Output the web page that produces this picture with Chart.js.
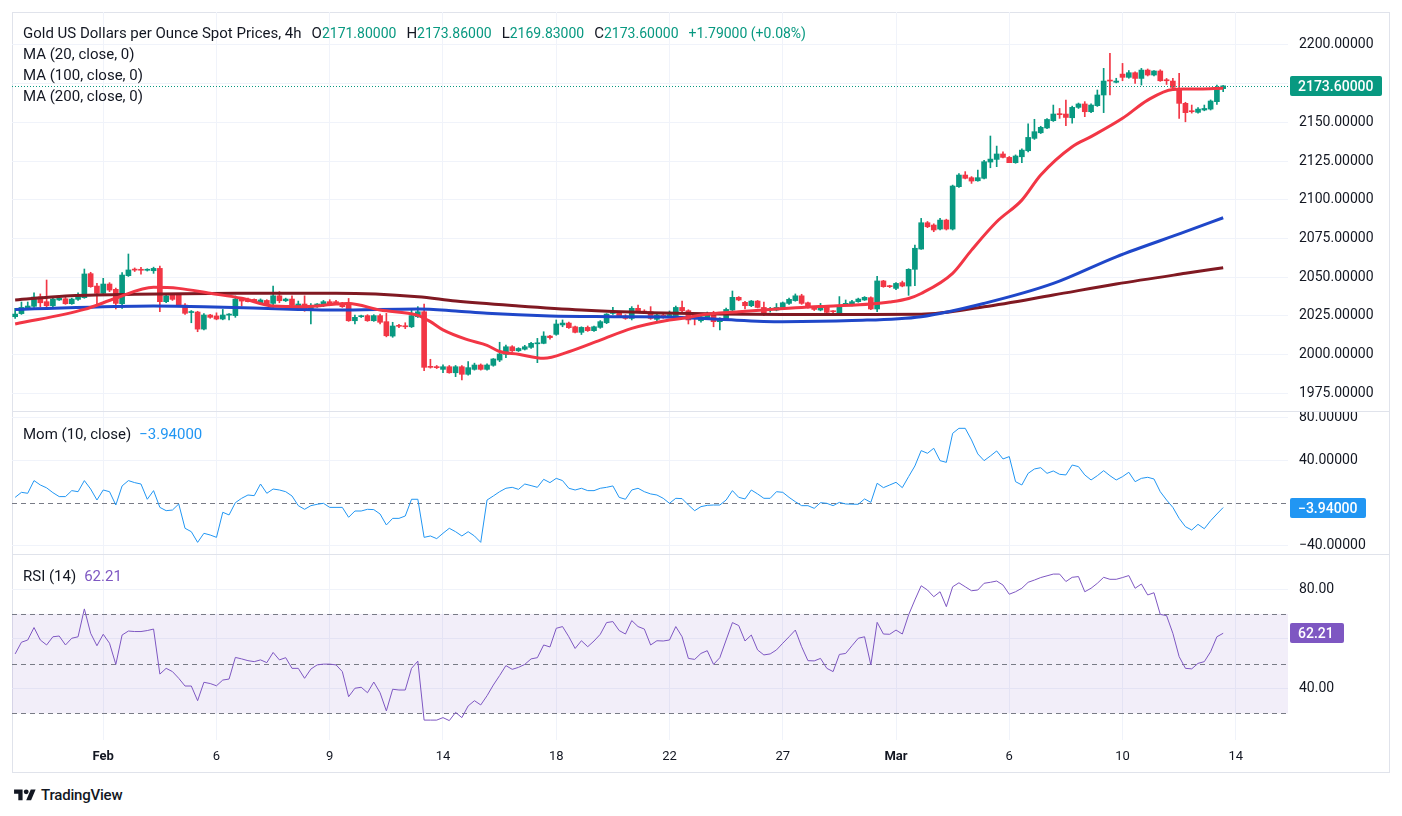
<!DOCTYPE html>
<html>
<head>
<meta charset="utf-8">
<script src="https://cdn.jsdelivr.net/npm/chart.js@4.4.1/dist/chart.umd.min.js"></script>
<style>
  body { margin: 0; background: #fff; font-family: Roboto, "Noto Sans", sans-serif; color: #131722; }
  #wrap { position: relative; width: 1402px; height: 816px; overflow: hidden; }
  .frame { position: absolute; left: 12px; top: 12px; width: 1376px; height: 759px; border: 1px solid #e0e3eb; }
  .sep { position: absolute; left: 12px; width: 1378px; height: 1px; background: #e0e3eb; }
  canvas { position: absolute; left: 12px; }
  .lg { position: absolute; left: 23px; font-size: 15px; line-height: 18px; white-space: nowrap; }
  .g { color: #089981; font-size: 14px; }
  .k { margin-left: 10px; }
</style>
</head>
<body>
<div id="wrap">
  <div class="frame"></div>
  <canvas id="price" width="1378" height="399" style="top:12px;width:1378px;height:399px"></canvas>
  <canvas id="mom" width="1378" height="142" style="top:412px;width:1378px;height:142px"></canvas>
  <canvas id="rsi" width="1378" height="218" style="top:555px;width:1378px;height:218px"></canvas>
  <div class="sep" style="top:411px"></div>
  <div class="sep" style="top:554px"></div>

  <div class="lg" style="top:24px">Gold US Dollars per Ounce Spot Prices, 4h<span class="k">O</span><span class="g">2171.80000</span><span class="k">H</span><span class="g">2173.86000</span><span class="k">L</span><span class="g">2169.83000</span><span class="k">C</span><span class="g">2173.60000</span><span class="g k">+1.79000 (+0.08%)</span></div>
  <div class="lg" style="top:45px">MA (20, close, 0)</div>
  <div class="lg" style="top:66px">MA (100, close, 0)</div>
  <div class="lg" style="top:87px">MA (200, close, 0)</div>
  <div class="lg" style="top:425px">Mom (10, close)<span class="k" style="color:#2196f3;margin-left:8px">&minus;3.94000</span></div>
  <div class="lg" style="top:567px">RSI (14)<span class="k" style="color:#7e57c2;margin-left:8px">62.21</span></div>

  <div style="position:absolute;left:14px;top:786px;display:flex;align-items:center;gap:5px">
    <svg width="22" height="17" viewBox="0 0 36 28"><path d="M14 22H7V11H0V4h14v18zM28 22h-8l7.5-18h8L28 22z" fill="#131722"/><circle cx="20" cy="8" r="4" fill="#131722"/></svg>
    <span style="font-size:15px;font-weight:500;letter-spacing:-0.2px">TradingView</span>
  </div>
</div>

<script>
// candles, 4h, index 0 = first bar on the left
const opens = [
  2024.5, 2026.5, 2030.3, 2031.2, 2037.4, 2034.2, 2031.6, 2035.3, 2036.1, 2032.9,
  2035.7, 2036.8, 2052.3, 2044.3, 2039.6, 2045.6, 2042.2, 2032.9, 2051.0, 2055.0,
  2055.0, 2054.5, 2054.2, 2055.7, 2034.2, 2039.0, 2039.0, 2032.0, 2027.2, 2027.5,
  2016.5, 2025.6, 2025.0, 2023.0, 2025.5, 2025.2, 2036.1, 2035.9, 2035.7, 2033.1,
  2035.0, 2033.1, 2038.0, 2034.8, 2035.9, 2031.4, 2032.7, 2028.4, 2031.0, 2031.6,
  2034.2, 2034.2, 2033.1, 2033.5, 2021.9, 2024.5, 2025.2, 2021.9, 2025.2, 2021.3,
  2012.0, 2018.7, 2018.5, 2018.0, 2024.5, 2027.7, 1992.2, 1992.0, 1990.5, 1992.2,
  1988.3, 1992.2, 1987.3, 1990.5, 1993.3, 1990.5, 1993.1, 1996.5, 2000.2, 2005.1,
  2002.5, 2003.5, 2004.7, 2007.0, 2007.3, 2012.0, 2013.1, 2019.2, 2020.4, 2018.0,
  2014.4, 2017.6, 2015.5, 2017.6, 2020.6, 2026.6, 2026.7, 2025.0, 2023.4, 2029.9,
  2028.0, 2027.7, 2022.8, 2025.3, 2025.2, 2025.2, 2030.5, 2028.4, 2025.6, 2021.9,
  2023.4, 2026.2, 2021.3, 2022.8, 2028.8, 2037.0, 2033.8, 2031.6, 2034.6, 2030.5,
  2029.0, 2028.8, 2030.5, 2033.1, 2034.9, 2038.0, 2033.5, 2030.5, 2028.8, 2031.0,
  2028.0, 2026.7, 2032.5, 2032.0, 2034.2, 2035.3, 2036.8, 2029.5, 2047.6, 2044.3,
  2042.8, 2046.5, 2044.3, 2055.1, 2068.2, 2085.2, 2083.7, 2081.1, 2086.9, 2081.1,
  2108.5, 2116.0, 2114.3, 2112.3, 2113.9, 2124.4, 2126.1, 2129.6, 2127.4, 2124.0,
  2127.8, 2131.7, 2139.7, 2143.3, 2146.4, 2151.1, 2155.6, 2155.4, 2153.0, 2159.7,
  2161.9, 2156.9, 2160.8, 2167.7, 2177.2, 2175.9, 2181.2, 2179.1, 2182.1, 2178.4,
  2183.8, 2180.6, 2183.2, 2177.2, 2176.7, 2172.0, 2162.3, 2157.0, 2156.5, 2158.0,
  2158.6, 2163.4, 2171.8
];
const highs = [
  2029.9, 2034.0, 2034.0, 2040.0, 2039.2, 2048.2, 2036.8, 2037.0, 2038.3, 2036.5,
  2040.0, 2055.3, 2053.2, 2046.0, 2049.3, 2046.5, 2043.0, 2053.0, 2065.0, 2056.0,
  2056.4, 2055.5, 2056.5, 2057.2, 2038.5, 2039.5, 2039.5, 2033.0, 2028.5, 2028.0,
  2026.5, 2026.0, 2027.0, 2029.2, 2026.5, 2037.9, 2036.8, 2036.5, 2036.0, 2036.0,
  2035.5, 2044.3, 2040.7, 2036.5, 2038.0, 2034.6, 2038.0, 2033.0, 2033.0, 2035.0,
  2035.5, 2035.0, 2033.8, 2036.3, 2025.6, 2025.5, 2025.8, 2025.8, 2026.2, 2026.7,
  2020.9, 2019.5, 2020.6, 2028.8, 2031.0, 2032.7, 1997.0, 1993.0, 1993.5, 1993.0,
  1993.0, 1993.0, 1995.5, 1994.5, 1994.0, 1994.0, 1997.5, 2008.0, 2006.2, 2005.8,
  2004.5, 2006.0, 2008.0, 2010.5, 2014.8, 2012.5, 2022.4, 2022.4, 2021.0, 2018.5,
  2018.0, 2018.5, 2018.5, 2022.0, 2026.5, 2030.5, 2028.0, 2025.8, 2031.0, 2032.0,
  2029.0, 2031.0, 2026.0, 2027.2, 2028.2, 2031.4, 2034.6, 2029.0, 2026.5, 2025.5,
  2027.5, 2028.0, 2023.8, 2030.0, 2041.1, 2037.5, 2034.5, 2035.0, 2035.0, 2034.0,
  2030.5, 2033.0, 2034.0, 2036.5, 2039.2, 2039.0, 2034.0, 2031.0, 2033.1, 2031.5,
  2028.5, 2037.5, 2035.3, 2035.0, 2036.5, 2037.5, 2037.3, 2050.5, 2048.0, 2044.8,
  2046.5, 2047.5, 2055.5, 2070.8, 2088.0, 2086.0, 2084.5, 2088.0, 2087.5, 2109.5,
  2117.0, 2118.2, 2115.0, 2119.2, 2125.5, 2141.2, 2134.7, 2131.0, 2128.0, 2129.0,
  2133.0, 2149.0, 2152.0, 2147.5, 2152.5, 2161.2, 2159.0, 2164.4, 2160.5, 2162.5,
  2163.4, 2162.0, 2170.9, 2184.9, 2194.6, 2178.5, 2188.1, 2183.5, 2182.6, 2184.9,
  2184.5, 2183.5, 2184.0, 2178.4, 2178.4, 2181.7, 2163.0, 2161.2, 2159.5, 2161.2,
  2164.5, 2174.1, 2173.86
];
const lows = [
  2023.4, 2026.0, 2029.7, 2030.5, 2031.0, 2029.5, 2031.0, 2035.0, 2032.5, 2032.5,
  2035.0, 2036.4, 2043.5, 2031.0, 2039.0, 2040.7, 2029.5, 2029.9, 2050.5, 2053.7,
  2051.9, 2054.0, 2052.5, 2027.7, 2033.5, 2035.0, 2031.5, 2026.0, 2020.6, 2014.8,
  2016.0, 2023.5, 2022.5, 2022.5, 2022.4, 2024.1, 2031.4, 2034.0, 2033.8, 2032.5,
  2032.3, 2030.5, 2033.5, 2034.3, 2031.5, 2031.0, 2028.0, 2019.8, 2030.5, 2031.0,
  2032.5, 2033.0, 2030.5, 2021.5, 2019.8, 2024.0, 2021.5, 2021.5, 2019.8, 2011.5,
  2011.2, 2017.5, 2016.8, 2017.5, 2024.0, 1989.6, 1991.3, 1991.0, 1988.3, 1988.0,
  1985.8, 1983.6, 1986.8, 1990.0, 1990.0, 1990.0, 1992.5, 1995.5, 1998.0, 2002.0,
  2002.0, 2003.0, 2004.0, 1994.8, 2007.0, 2010.0, 2012.5, 2018.0, 2017.0, 2014.0,
  2013.0, 2015.0, 2015.0, 2017.0, 2020.0, 2026.0, 2024.0, 2022.8, 2022.4, 2027.5,
  2026.8, 2022.8, 2020.6, 2023.5, 2024.5, 2024.5, 2027.8, 2019.8, 2019.2, 2021.0,
  2023.0, 2018.0, 2015.9, 2022.0, 2028.0, 2034.8, 2029.5, 2031.0, 2030.2, 2025.2,
  2027.5, 2028.3, 2030.0, 2032.5, 2034.5, 2032.5, 2030.0, 2028.5, 2028.3, 2026.8,
  2025.6, 2026.0, 2032.0, 2031.5, 2033.8, 2035.0, 2029.0, 2027.7, 2043.5, 2043.3,
  2042.0, 2043.8, 2038.3, 2044.5, 2068.0, 2082.0, 2079.4, 2080.5, 2080.5, 2080.5,
  2108.0, 2113.5, 2110.6, 2112.0, 2113.5, 2120.7, 2121.4, 2127.0, 2124.0, 2123.6,
  2124.0, 2131.0, 2139.0, 2142.8, 2145.9, 2150.6, 2152.6, 2147.9, 2149.5, 2159.0,
  2153.7, 2156.3, 2160.3, 2156.3, 2167.7, 2175.5, 2176.9, 2178.5, 2175.2, 2174.1,
  2180.0, 2180.0, 2176.5, 2174.5, 2172.0, 2152.6, 2150.4, 2156.0, 2156.0, 2157.5,
  2158.0, 2161.6, 2169.83
];
const closes = [
  2026.2, 2030.5, 2031.4, 2037.2, 2033.5, 2031.6, 2035.9, 2036.4, 2032.9, 2035.9,
  2037.4, 2052.1, 2043.9, 2039.6, 2045.6, 2041.7, 2033.1, 2051.4, 2054.7, 2054.6,
  2054.5, 2054.8, 2055.7, 2034.2, 2038.0, 2035.7, 2032.0, 2026.7, 2027.8, 2016.5,
  2025.6, 2024.1, 2023.0, 2025.6, 2026.2, 2035.9, 2034.6, 2034.2, 2034.2, 2035.3,
  2032.7, 2038.0, 2034.8, 2035.9, 2032.0, 2032.7, 2028.4, 2031.4, 2032.7, 2034.2,
  2032.7, 2033.1, 2031.0, 2021.9, 2024.1, 2025.0, 2021.9, 2025.2, 2020.9, 2012.2,
  2018.5, 2018.3, 2018.0, 2025.2, 2027.7, 1991.8, 1991.8, 1991.6, 1992.2, 1988.3,
  1992.2, 1987.3, 1991.6, 1993.3, 1990.5, 1993.3, 1997.2, 2000.4, 2005.1, 2002.5,
  2004.0, 2005.1, 2007.3, 2007.5, 2012.0, 2011.0, 2019.8, 2020.4, 2017.4, 2014.4,
  2017.6, 2015.5, 2018.0, 2021.3, 2026.2, 2027.0, 2024.5, 2023.4, 2029.9, 2027.7,
  2027.5, 2023.4, 2025.6, 2024.9, 2025.6, 2030.5, 2028.4, 2022.4, 2024.9, 2024.5,
  2025.6, 2021.3, 2023.4, 2029.2, 2037.0, 2035.3, 2031.6, 2034.6, 2030.5, 2026.7,
  2029.3, 2030.5, 2033.5, 2035.7, 2038.0, 2033.1, 2030.5, 2029.2, 2031.0, 2027.3,
  2027.7, 2031.4, 2032.9, 2034.2, 2035.9, 2037.0, 2029.5, 2047.6, 2043.9, 2043.9,
  2046.0, 2044.3, 2055.1, 2068.7, 2085.2, 2082.6, 2080.5, 2086.9, 2081.1, 2108.9,
  2116.0, 2113.9, 2112.1, 2114.3, 2124.6, 2126.3, 2129.6, 2127.4, 2124.0, 2128.3,
  2132.1, 2140.3, 2144.0, 2146.8, 2151.9, 2155.4, 2155.0, 2153.2, 2159.7, 2161.9,
  2156.9, 2161.2, 2167.7, 2176.7, 2176.7, 2176.7, 2179.1, 2182.1, 2178.4, 2183.8,
  2180.6, 2183.2, 2176.9, 2176.9, 2172.6, 2162.3, 2156.3, 2156.9, 2158.6, 2159.0,
  2163.8, 2172.0, 2173.6
];

// moving averages (bar index -> value)
const ma20At = [0, 11, 16, 22, 26, 31, 36, 41, 46, 51, 53, 58, 64, 66, 68, 72, 75, 77, 80, 84, 88, 93, 98, 104, 107, 109, 115, 120, 125, 130, 136, 139, 142, 144, 149, 152, 156, 160, 163, 168, 171, 176, 180, 184, 186, 192];
const ma20 = [2019.8, 2029.2, 2036.4, 2043.5, 2042.8, 2039.6, 2036.4, 2031.4, 2031.0, 2032.7, 2033.1, 2028.8, 2025.4, 2021.3, 2016.0, 2009.5, 2006.0, 2002.0, 2000.2, 1997.6, 2001.9, 2009.4, 2017.0, 2022.4, 2024.0, 2025.6, 2027.7, 2029.2, 2030.5, 2031.4, 2032.7, 2034.0, 2036.3, 2039.5, 2052.5, 2067.5, 2085.8, 2099.8, 2116.0, 2134.3, 2140.8, 2152.6, 2164.4, 2171.3, 2171.5, 2172.0];
const ma100At = [0, 22, 30, 45, 51, 64, 70, 75, 85, 96, 106, 112, 122, 133, 144, 154, 165, 175, 186, 192];
const ma100 = [2029.2, 2031.4, 2031.0, 2029.2, 2028.8, 2029.5, 2028.2, 2026.7, 2025.0, 2024.5, 2024.0, 2022.8, 2021.3, 2022.0, 2024.5, 2033.1, 2046.0, 2063.2, 2079.4, 2088.4];
const ma200At = [0, 8, 19, 35, 51, 64, 70, 80, 90, 101, 112, 122, 133, 144, 154, 165, 175, 186, 192];
const ma200 = [2035.3, 2037.9, 2039.0, 2039.6, 2039.6, 2037.4, 2034.6, 2031.4, 2028.8, 2027.1, 2026.2, 2026.0, 2026.0, 2026.1, 2030.9, 2038.5, 2045.6, 2052.5, 2056.1];

// Mom (10, close)
const mom = [
  5.6, 10.3, 9.4, 21.3, 17.2, 14.5, 10.0, 6.3, 6.3, 11.9,
  10.9, 21.3, 13.4, 3.1, 12.5, 10.9, -1.6, 16.3, 21.3, 19.4,
  18.1, 3.8, 11.9, -3.8, -6.9, -6.3, -0.6, -23.4, -26.6, -36.6,
  -28.1, -29.7, -31.9, -8.4, -10.9, 0.6, 4.7, 7.8, 7.2, 18.1,
  9.4, 13.4, 12.5, 10.9, 6.9, -2.2, -5.6, -2.2, -0.9, 0.0,
  -3.8, -3.8, -3.8, -13.1, -7.2, -7.2, -5.6, -5.9, -10.0, -20.3,
  -14.1, -14.1, -11.9, 3.8, 3.8, -31.9, -30.6, -33.1, -28.1, -23.4,
  -26.6, -30.6, -26.6, -30.6, -36.6, 3.1, 6.9, 10.9, 14.1, 15.0,
  13.1, 18.1, 16.6, 15.0, 22.5, 19.4, 23.4, 21.3, 14.1, 12.5,
  14.1, 11.9, 11.9, 14.1, 15.0, 16.3, 5.6, 3.8, 12.5, 14.1,
  10.9, 8.8, 7.8, 4.7, 0.0, 4.7, 4.4, -1.6, -6.9, -3.1,
  -1.9, -1.6, -1.6, 3.1, 11.9, 5.6, 4.1, 12.5, 8.8, 4.7,
  4.7, 10.9, 10.3, 5.6, 1.5, -2.2, -2.2, -4.7, 0.6, 0.0,
  -2.2, 0.9, -0.6, -0.8, -0.9, 4.1, 0.9, 18.8, 14.7, 17.2,
  19.7, 14.7, 25.0, 35.0, 49.4, 46.9, 51.6, 40.0, 38.4, 65.6,
  70.3, 70.3, 59.4, 46.3, 40.0, 44.4, 49.1, 41.6, 43.8, 20.3,
  17.2, 28.1, 32.2, 33.4, 28.1, 30.3, 27.2, 26.6, 35.9, 34.4,
  26.6, 21.9, 25.9, 30.6, 25.9, 21.9, 25.0, 29.1, 20.3, 23.4,
  24.4, 22.8, 10.9, 3.1, -3.8, -14.1, -21.9, -25.0, -19.7, -23.8,
  -16.3, -10.0, -3.94
];

// RSI (14)
const rsi = [
  53.9, 58.6, 59.5, 64.5, 59.5, 57.5, 60.8, 61.1, 57.5, 60.2,
  60.8, 72.0, 62.2, 57.2, 61.8, 58.2, 49.7, 61.5, 63.1, 62.9,
  62.9, 63.3, 63.9, 45.8, 48.1, 46.8, 44.1, 41.0, 41.0, 35.1,
  42.5, 42.0, 41.1, 43.4, 43.8, 52.5, 51.9, 51.2, 50.8, 51.5,
  50.4, 54.5, 51.5, 52.4, 48.1, 48.1, 44.1, 47.8, 49.5, 49.8,
  49.8, 49.5, 46.8, 36.7, 40.1, 40.5, 38.3, 42.6, 38.3, 31.0,
  39.7, 39.4, 39.4, 48.1, 51.0, 27.3, 27.3, 27.3, 28.3, 27.1,
  30.4, 28.3, 33.0, 35.1, 33.4, 37.1, 41.4, 45.2, 49.2, 47.7,
  48.5, 49.7, 51.9, 52.4, 57.5, 56.7, 64.2, 64.9, 60.8, 56.1,
  59.2, 56.8, 59.1, 61.8, 66.5, 66.9, 63.3, 61.9, 67.3, 64.9,
  63.9, 57.5, 59.2, 59.1, 59.5, 64.9, 60.8, 52.1, 51.7, 54.1,
  55.2, 49.7, 52.4, 59.5, 66.5, 65.3, 59.1, 61.5, 55.5, 53.5,
  53.9, 55.5, 58.2, 60.8, 63.5, 56.8, 51.2, 51.1, 52.1, 48.1,
  46.8, 53.7, 54.1, 57.2, 60.2, 60.8, 49.5, 66.6, 61.9, 61.8,
  63.5, 61.9, 69.6, 75.6, 81.3, 79.6, 76.9, 78.9, 72.9, 80.9,
  82.5, 80.9, 79.3, 79.6, 82.3, 82.7, 83.2, 81.6, 77.9, 78.9,
  80.3, 82.7, 83.6, 84.6, 85.3, 86.0, 86.0, 83.0, 84.7, 85.0,
  78.9, 80.3, 82.3, 84.7, 83.9, 83.9, 84.6, 85.4, 80.3, 82.0,
  77.6, 78.5, 69.8, 69.3, 62.2, 52.8, 48.1, 47.9, 50.1, 50.8,
  54.8, 60.8, 62.21
];

// time axis
const tickPos = [14, 32, 50, 68, 86, 104, 122, 140, 158, 176, 194];
const tickText = ['Feb', '6', '9', '14', '18', '22', '27', 'Mar', '6', '10', '14'];
const tickBold = ['Feb', 'Mar'];

const priceTicks = [1975, 2000, 2025, 2050, 2075, 2100, 2125, 2150, 2175, 2200];
const momTicks = [-40, 40, 80];
const rsiTicks = [40, 60, 80];

const UP = '#089981', DOWN = '#f23645', GRID = '#f0f3fa', TXT = '#131722';
const FONT = 'Roboto, "Noto Sans", sans-serif';
Chart.defaults.font.family = FONT;
Chart.defaults.animation = false;

const minus = s => s.replace('-', '\u2212');

function xAxis(showLabels) {
  return {
    type: 'linear', min: -0.5, max: 202.3, offset: false,
    afterBuildTicks: s => { s.ticks = tickPos.map(v => ({ value: v })); },
    afterFit: s => { s.height = showLabels ? 33 : 0; s.paddingLeft = 0; s.paddingRight = 0; },
    grid: { color: GRID, drawTicks: false, offset: false },
    border: { display: false },
    ticks: {
      display: showLabels, padding: 9, maxRotation: 0, autoSkip: false, color: TXT,
      font: c => ({ family: FONT, size: 13, weight: tickBold.includes(tickText[c.index]) ? 'bold' : 'normal' }),
      callback: (v, i) => tickText[i]
    }
  };
}

function yAxis(min, max, ticks, fmt) {
  return {
    position: 'right', min, max,
    afterBuildTicks: s => { s.ticks = ticks.map(v => ({ value: v })); },
    // fixed axis width, and no extra vertical room for the edge labels
    afterFit: s => { s.width = 102; s.paddingTop = 0; s.paddingBottom = 0; },
    grid: { color: GRID, drawTicks: false },
    border: { display: false },
    ticks: { padding: 11, color: TXT, font: { family: FONT, size: 14 }, callback: fmt }
  };
}

function levels(values, band) {
  return {
    id: 'levels',
    beforeDatasetsDraw(chart) {
      const { ctx, chartArea: a, scales: { y } } = chart;
      ctx.save();
      if (band) {
        const top = y.getPixelForValue(band[1]), bot = y.getPixelForValue(band[0]);
        ctx.fillStyle = 'rgba(126,87,194,0.1)';
        ctx.fillRect(a.left, top, a.right - a.left, bot - top);
      }
      ctx.strokeStyle = '#787b86';
      ctx.lineWidth = 1;
      ctx.setLineDash([5, 4]);
      values.forEach(v => {
        const py = Math.round(y.getPixelForValue(v)) + 0.5;
        ctx.beginPath(); ctx.moveTo(a.left, py); ctx.lineTo(a.right, py); ctx.stroke();
      });
      ctx.restore();
    }
  };
}

function lastValue(value, color, text, w, dotted) {
  return {
    id: 'lastValue',
    afterDraw(chart) {
      const { ctx, chartArea: a, scales: { y } } = chart;
      const py = Math.round(y.getPixelForValue(value));
      ctx.save();
      if (dotted) {
        ctx.strokeStyle = color; ctx.lineWidth = 1; ctx.setLineDash([1, 2]);
        ctx.beginPath(); ctx.moveTo(a.left, py + 0.5); ctx.lineTo(a.right, py + 0.5); ctx.stroke();
        ctx.setLineDash([]);
      }
      ctx.fillStyle = color;
      ctx.beginPath(); ctx.roundRect(a.right + 2, py - 10, w, 20, 2); ctx.fill();
      ctx.fillStyle = '#fff';
      ctx.font = '500 14px ' + FONT;
      ctx.textBaseline = 'middle';
      ctx.fillText(text, a.right + 10, py + 1);
      ctx.restore();
    }
  };
}

const idx = closes.map((c, i) => i);
const barColors = idx.map(i => closes[i] >= opens[i] ? UP : DOWN);
const pts = (at, vals) => at.map((x, k) => ({ x, y: vals[k] }));
const last = closes.length - 1;

const maLine = (label, at, vals, color, order) => ({
  type: 'line', label, data: pts(at, vals), borderColor: color, borderWidth: 3,
  pointRadius: 0, cubicInterpolationMode: 'monotone', order
});

const common = {
  responsive: false, devicePixelRatio: 1,
  layout: { padding: 0, autoPadding: false },
  plugins: { legend: { display: false }, tooltip: { enabled: false } }
};

new Chart(document.getElementById('price'), {
  type: 'bar',
  data: {
    datasets: [
      maLine('MA 20', ma20At, ma20, '#f23645', 0),
      maLine('MA 100', ma100At, ma100, '#1f47c9', 1),
      maLine('MA 200', ma200At, ma200, '#801922', 2),
      {
        label: 'body', data: idx.map(i => ({ x: i, y: [opens[i], closes[i]] })),
        backgroundColor: barColors, barThickness: 5, minBarLength: 1, grouped: false, order: 3
      },
      {
        label: 'wick', data: idx.map(i => ({ x: i, y: [lows[i], highs[i]] })),
        backgroundColor: barColors, barThickness: 1, grouped: false, order: 4
      }
    ]
  },
  options: {
    ...common,
    scales: {
      x: xAxis(false),
      y: yAxis(1963.6, 2221.3, priceTicks, v => v.toFixed(5))
    }
  },
  plugins: [lastValue(closes[last], UP, closes[last].toFixed(5), 92, true)]
});

new Chart(document.getElementById('mom'), {
  type: 'line',
  data: {
    datasets: [{
      label: 'Mom', data: idx.map(i => ({ x: i, y: mom[i] })),
      borderColor: '#2196f3', borderWidth: 1, pointRadius: 0, tension: 0
    }]
  },
  options: {
    ...common,
    scales: {
      x: xAxis(false),
      y: yAxis(-47.5, 85.6, momTicks, v => minus(v.toFixed(5)))
    }
  },
  plugins: [levels([0]), lastValue(mom[last], '#2196f3', minus(mom[last].toFixed(5)), 76, false)]
});

new Chart(document.getElementById('rsi'), {
  type: 'line',
  data: {
    datasets: [{
      label: 'RSI', data: idx.map(i => ({ x: i, y: rsi[i] })),
      borderColor: '#7e57c2', borderWidth: 1, pointRadius: 0, tension: 0
    }]
  },
  options: {
    ...common,
    scales: {
      x: xAxis(true),
      y: yAxis(19.3, 93.67, rsiTicks, v => v === 60 ? '' : v.toFixed(2))
    }
  },
  plugins: [levels([70, 50, 30], [30, 70]), lastValue(rsi[last], '#7e57c2', rsi[last].toFixed(2), 54, false)]
});
</script>
</body>
</html>
